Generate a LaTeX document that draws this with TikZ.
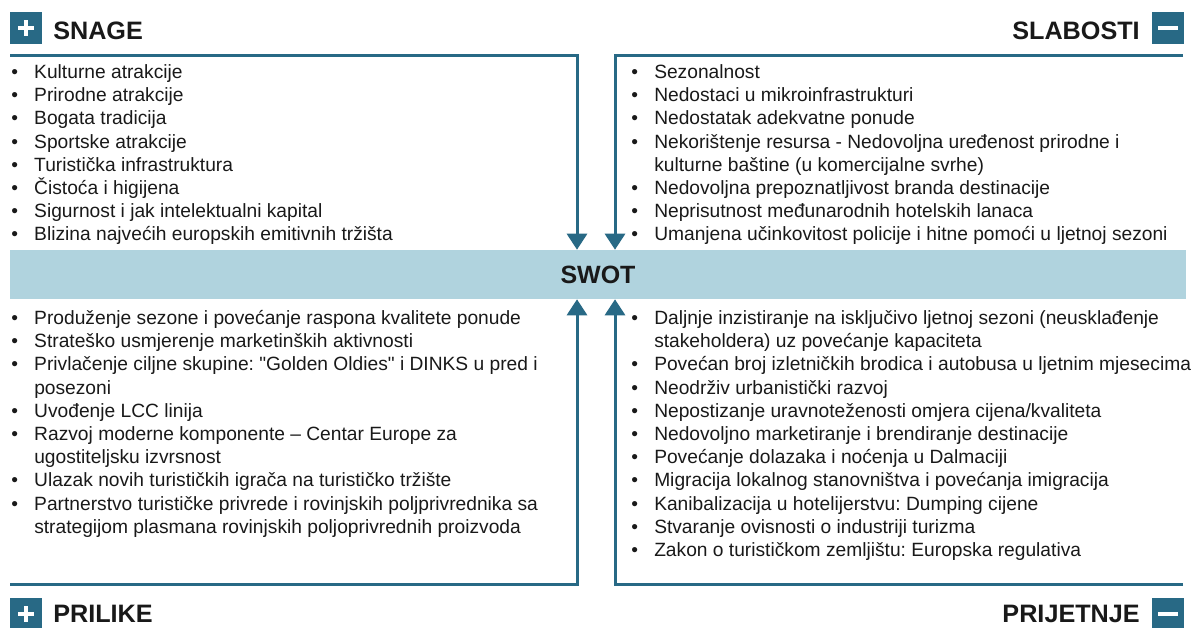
\documentclass[tikz,border=0pt]{standalone}
\usepackage{fontspec}
\setmainfont{Liberation Sans}[Ligatures=TeXOff]
\usetikzlibrary{arrows.meta,calc}

\definecolor{swotblue}{RGB}{40,105,133}
\definecolor{swotlight}{RGB}{176,211,222}

% one bullet line and one wrapped line of a list
\newcommand{\itm}[1]{\makebox[17.25pt][l]{\textbullet}#1}
\newcommand{\cnt}[1]{\hspace*{17.25pt}#1}
\frenchspacing

\begin{document}
\begin{tikzpicture}[
            x=0.75pt, y=-0.75pt,
            every node/.style={font=\fontsize{14.4}{17.4}\selectfont, text=black!90}
        ]

        % Define styles for nodes
        \tikzset{
            band/.style={rectangle, fill=swotlight, minimum width=882pt, minimum height=36.75pt, inner sep=0pt, font=\bfseries\fontsize{18.75}{22}\selectfont},
            icon/.style={rectangle, fill=swotblue, minimum size=24pt, inner sep=0pt},
            heading/.style={inner sep=0pt, font=\bfseries\fontsize{18.9}{22}\selectfont},
            itemlist/.style={anchor=north west, inner sep=0pt, align=left},
            link/.style={draw=swotblue, line width=2.25pt},
            sign/.style={draw=white, line width=3.5pt},
            tip/.style={-{Triangle[width=15pt, length=12pt]}}
        }

        \useasboundingbox (0,0) rectangle (1193,628);

        % Centre band
        \node[band] (swot) at (598,274.5) {SWOT};

        % Corner headings
        \node[icon] (snageicon) at (26,28) {};
        \node[heading, anchor=base west] (snage) at (53,39) {SNAGE};
        \node[icon] (slabostiicon) at (1168,28) {};
        \node[heading, anchor=base east] (slabosti) at (1140,39) {SLABOSTI};
        \node[icon] (prilikeicon) at (26,614) {};
        \node[heading, anchor=base west] (prilike) at (53,622) {PRILIKE};
        \node[icon] (prijetnjeicon) at (1168,614) {};
        \node[heading, anchor=base east] (prijetnje) at (1140,622) {PRIJETNJE};

        % Plus and minus signs
        \draw[sign] ($(snageicon)+(-8,0)$) -- ($(snageicon)+(8,0)$);
        \draw[sign] ($(snageicon)+(0,-8)$) -- ($(snageicon)+(0,8)$);
        \draw[sign] ($(prilikeicon)+(-8,0)$) -- ($(prilikeicon)+(8,0)$);
        \draw[sign] ($(prilikeicon)+(0,-8)$) -- ($(prilikeicon)+(0,8)$);
        \draw[sign] ($(slabostiicon)+(-10,0)$) -- ($(slabostiicon)+(10,0)$);
        \draw[sign] ($(prijetnjeicon)+(-10,0)$) -- ($(prijetnjeicon)+(10,0)$);

        % Lists
        \node[itemlist] (snagelist) at (11,62) {\strut\itm{Kulturne atrakcije}\\
            \itm{Prirodne atrakcije}\\
            \itm{Bogata tradicija}\\
            \itm{Sportske atrakcije}\\
            \itm{Turistička infrastruktura}\\
            \itm{Čistoća i higijena}\\
            \itm{Sigurnost i jak intelektualni kapital}\\
            \itm{Blizina najvećih europskih emitivnih tržišta}};

        \node[itemlist] (slabostilist) at (631,62) {\strut\itm{Sezonalnost}\\
            \itm{Nedostaci u mikroinfrastrukturi}\\
            \itm{Nedostatak adekvatne ponude}\\
            \itm{Nekorištenje resursa - Nedovoljna uređenost prirodne i}\\
            \cnt{kulturne baštine (u komercijalne svrhe)}\\
            \itm{Nedovoljna prepoznatljivost branda destinacije}\\
            \itm{Neprisutnost međunarodnih hotelskih lanaca}\\
            \itm{Umanjena učinkovitost policije i hitne pomoći u ljetnoj sezoni}};

        \node[itemlist] (prilikelist) at (11,308) {\strut\itm{Produženje sezone i povećanje raspona kvalitete ponude}\\
            \itm{Strateško usmjerenje marketinških aktivnosti}\\
            \itm{Privlačenje ciljne skupine: "Golden Oldies" i DINKS u pred i}\\
            \cnt{posezoni}\\
            \itm{Uvođenje LCC linija}\\
            \itm{Razvoj moderne komponente – Centar Europe za}\\
            \cnt{ugostiteljsku izvrsnost}\\
            \itm{Ulazak novih turističkih igrača na turističko tržište}\\
            \itm{Partnerstvo turističke privrede i rovinjskih poljprivrednika sa}\\
            \cnt{strategijom plasmana rovinjskih poljoprivrednih proizvoda}};

        \node[itemlist] (prijetnjelist) at (631,308) {\strut\itm{Daljnje inzistiranje na isključivo ljetnoj sezoni (neusklađenje}\\
            \cnt{stakeholdera) uz povećanje kapaciteta}\\
            \itm{Povećan broj izletničkih brodica i autobusa u ljetnim mjesecima}\\
            \itm{Neodrživ urbanistički razvoj}\\
            \itm{Nepostizanje uravnoteženosti omjera cijena/kvaliteta}\\
            \itm{Nedovoljno marketiranje i brendiranje destinacije}\\
            \itm{Povećanje dolazaka i noćenja u Dalmaciji}\\
            \itm{Migracija lokalnog stanovništva i povećanja imigracija}\\
            \itm{Kanibalizacija u hotelijerstvu: Dumping cijene}\\
            \itm{Stvaranje ovisnosti o industriji turizma}\\
            \itm{Zakon o turističkom zemljištu: Europska regulativa}};

        % Connectors into the band
        \coordinate (snagestart) at (10,55);
        \coordinate (snagecorner) at (577,55);
        \coordinate (slabostistart) at (1183,55);
        \coordinate (slabosticorner) at (615,55);
        \coordinate (prilikestart) at (10,584);
        \coordinate (prilikecorner) at (577,584);
        \coordinate (prijetnjestart) at (1183,584);
        \coordinate (prijetnjecorner) at (615,584);

        \draw[link, tip] (snagestart) -- (snagecorner) -- (snagecorner |- swot.north);
        \draw[link, tip] (slabostistart) -- (slabosticorner) -- (slabosticorner |- swot.north);
        \draw[link, tip] (prilikestart) -- (prilikecorner) -- (prilikecorner |- swot.south);
        \draw[link, tip] (prijetnjestart) -- (prijetnjecorner) -- (prijetnjecorner |- swot.south);

        \end{tikzpicture}
\end{document}
